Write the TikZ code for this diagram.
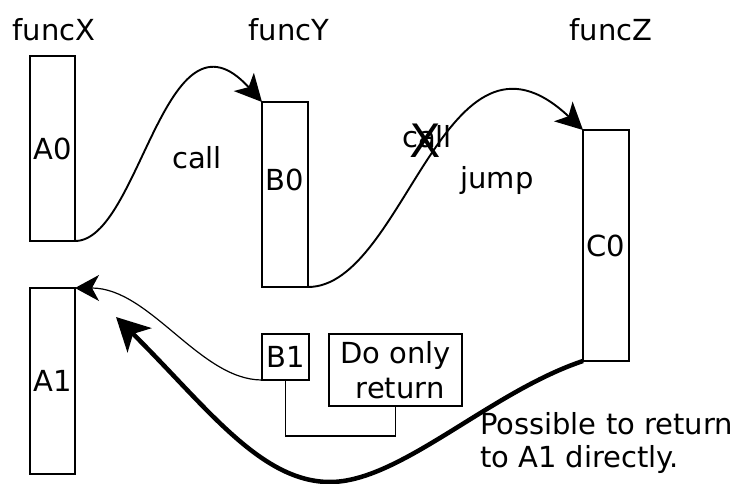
\documentclass[tikz,border=0pt]{standalone}
\usepackage{fontspec}
\setmainfont{DejaVu Sans}
\usetikzlibrary{arrows.meta}
\begin{document}
\begin{tikzpicture}[x=1pt,y=-1pt,
  every node/.style={font=\fontsize{29}{34}\selectfont, inner sep=0pt, outer sep=0pt},
  box/.style={draw, line width=1.8pt},
  conn/.style={line width=1.9pt, -{Stealth[length=27pt,width=27pt,inset=7pt]}},
  thinret/.style={line width=1.2pt, -{Stealth[length=24pt,width=26pt,inset=7pt]}},
  thickret/.style={line width=4.5pt, -{Stealth[length=33pt,width=34pt,inset=9pt]}},
  link/.style={line width=1.8pt}]
\useasboundingbox (0,0) rectangle (739,484);
% titles
\node (tX) at (54,30) {funcX};
\node (tY) at (289,30) {funcY};
\node (tZ) at (611,30) {funcZ};
% boxes
\node[box, minimum width=45pt, minimum height=185pt] (A0) at (52.5,148.5) {A0};
\node[box, minimum width=45pt, minimum height=186pt] (A1) at (52.5,381) {A1};
\node[box, minimum width=46pt, minimum height=185pt] (B0) at (285,194.5) {};
\node (B0t) at (285,180) {B0};
\node[box, minimum width=46pt, minimum height=231pt] (C0) at (606,245.5) {C0};
\node[box, minimum width=47pt, minimum height=46pt] (B1) at (285.5,357) {B1};
\node[box, minimum width=133pt, minimum height=72pt, align=center, font=\fontsize{29}{35}\selectfont] (DO) at (395.5,370) {Do only\\\ return};
% labels
\node (lcall) at (197,158) {call};
\node (ljump) at (497,180) {jump};
\node (lcallx) at (427,137) {call};
\node (lx) at (425,141) {\fontsize{46}{50}\selectfont X};
\node[align=left, anchor=north west, font=\fontsize{29}{33}\selectfont] (note) at (480,412) {Possible to return\\to A1 directly.};
% connectors
\draw[conn] (A0.south east) .. controls (140,241) and (165,-5) .. (B0.north west);
\draw[conn] (B0.south east) .. controls (405,287) and (445,0) .. (C0.north west);
\draw[thinret] (B1.south west) .. controls (200,380) and (150,288) .. (A1.north east);
\coordinate (bot) at (330,482);
\coordinate (tipA) at (116,317);
\draw[thickret] (C0.south west) .. controls (490,392) and (400,482) .. (bot) .. controls (260,482) and (205,405) .. (tipA);
\draw[link] (B1.south) -- ++(0,56) -| (DO.south);
\end{tikzpicture}
\end{document}
